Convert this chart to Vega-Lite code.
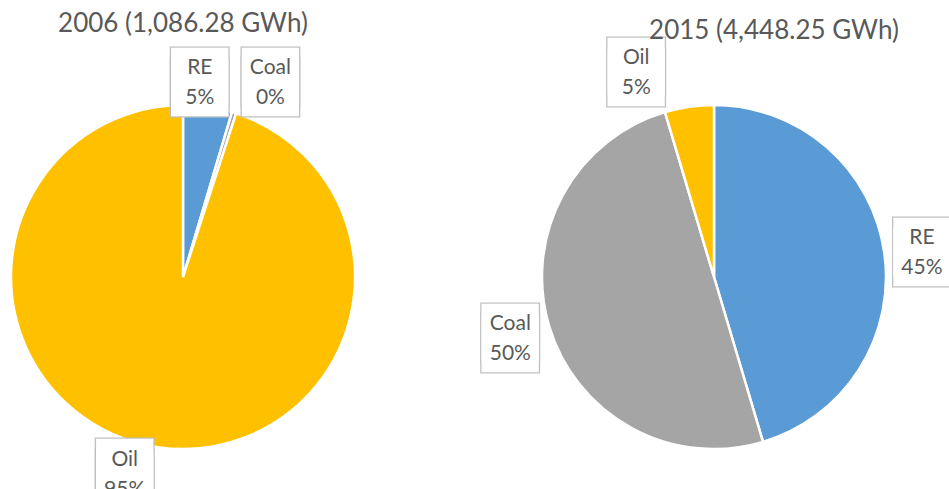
{
  "$schema": "https://vega.github.io/schema/vega-lite/v6.json",
  "padding": {"top": 10, "left": 0, "right": 0, "bottom": 0},
  "background": "white",
  "spacing": 107,
  "config": {
    "view": {"stroke": null},
    "title": {"font": "Lato", "fontSize": 26, "fontWeight": "normal", "color": "#595959", "frame": "group"}
  },
  "datasets": {
    "y2006": [
      {"source": "RE", "share": 0.046, "idx": 1},
      {"source": "Coal", "share": 0.004, "idx": 2},
      {"source": "Oil", "share": 0.95, "idx": 3}
    ],
    "y2015": [
      {"source": "RE", "share": 0.454, "idx": 1},
      {"source": "Coal", "share": 0.5, "idx": 2},
      {"source": "Oil", "share": 0.046, "idx": 3}
    ]
  },
  "hconcat": [
    {
      "width": 366,
      "height": 316,
      "title": {"text": "2006 (1,086.28 GWh)", "offset": -8},
      "data": {"name": "y2006"},
      "transform": [{"calculate": "datum.source + '\\n' + format(datum.share, '.0%')", "as": "label"}],
      "encoding": {
        "theta": {"field": "share", "type": "quantitative", "stack": true},
        "order": {"field": "idx", "type": "quantitative"}
      },
      "layer": [
        {
          "mark": {"type": "arc", "outerRadius": 172, "stroke": "white", "strokeWidth": 2.5},
          "encoding": {
            "color": {"field": "source", "type": "nominal", "legend": null,
              "scale": {"domain": ["RE", "Coal", "Oil"], "range": ["#5B9BD5", "#A5A5A5", "#FFC000"]}}
          }
        },
        {
          "mark": {"type": "text", "radius": 200, "dx": -12, "dy": -6.5, "font": "DejaVu Sans", "fontSize": 75, "lineBreak": "\n", "lineHeight": 11, "fill": "white", "stroke": "#BFBFBF", "strokeWidth": 2.6, "align": "center", "baseline": "middle"},
          "encoding": {"text": {"condition": {"test": "datum.source === 'RE'", "value": "■\n■"}, "value": ""}}
        },
        {
          "mark": {"type": "text", "radius": 200, "dx": 28, "dy": -13.5, "font": "DejaVu Sans", "fontSize": 75, "lineBreak": "\n", "lineHeight": 11, "fill": "white", "stroke": "#BFBFBF", "strokeWidth": 2.6, "align": "center", "baseline": "middle"},
          "encoding": {"text": {"condition": {"test": "datum.source === 'Coal'", "value": "■\n■"}, "value": ""}}
        },
        {
          "mark": {"type": "text", "radius": 200, "dx": -27, "dy": -10.5, "font": "DejaVu Sans", "fontSize": 75, "lineBreak": "\n", "lineHeight": 11, "fill": "white", "stroke": "#BFBFBF", "strokeWidth": 2.6, "align": "center", "baseline": "middle"},
          "encoding": {"text": {"condition": {"test": "datum.source === 'Oil'", "value": "■\n■"}, "value": ""}}
        },
        {
          "mark": {"type": "text", "radius": 200, "dx": -12, "dy": -6.5, "font": "DejaVu Sans", "fontSize": 75, "lineBreak": "\n", "lineHeight": 11, "fill": "white", "align": "center", "baseline": "middle"},
          "encoding": {"text": {"condition": {"test": "datum.source === 'RE'", "value": "■\n■"}, "value": ""}}
        },
        {
          "mark": {"type": "text", "radius": 200, "dx": 28, "dy": -13.5, "font": "DejaVu Sans", "fontSize": 75, "lineBreak": "\n", "lineHeight": 11, "fill": "white", "align": "center", "baseline": "middle"},
          "encoding": {"text": {"condition": {"test": "datum.source === 'Coal'", "value": "■\n■"}, "value": ""}}
        },
        {
          "mark": {"type": "text", "radius": 200, "dx": -27, "dy": -10.5, "font": "DejaVu Sans", "fontSize": 75, "lineBreak": "\n", "lineHeight": 11, "fill": "white", "align": "center", "baseline": "middle"},
          "encoding": {"text": {"condition": {"test": "datum.source === 'Oil'", "value": "■\n■"}, "value": ""}}
        },
        {
          "mark": {"type": "text", "radius": 200, "dx": -12, "dy": -11, "font": "Lato", "fontSize": 21, "color": "#595959", "lineBreak": "\n", "lineHeight": 30, "align": "center", "baseline": "middle"},
          "encoding": {"text": {"condition": {"test": "datum.source === 'RE'", "field": "label"}, "value": ""}}
        },
        {
          "mark": {"type": "text", "radius": 200, "dx": 28, "dy": -18, "font": "Lato", "fontSize": 21, "color": "#595959", "lineBreak": "\n", "lineHeight": 30, "align": "center", "baseline": "middle"},
          "encoding": {"text": {"condition": {"test": "datum.source === 'Coal'", "field": "label"}, "value": ""}}
        },
        {
          "mark": {"type": "text", "radius": 200, "dx": -27, "dy": -15, "font": "Lato", "fontSize": 21, "color": "#595959", "lineBreak": "\n", "lineHeight": 30, "align": "center", "baseline": "middle"},
          "encoding": {"text": {"condition": {"test": "datum.source === 'Oil'", "field": "label"}, "value": ""}}
        }
      ]
    },
    {
      "width": 366,
      "height": 316,
      "title": {"text": "2015 (4,448.25 GWh)", "offset": -18, "dx": 60},
      "data": {"name": "y2015"},
      "transform": [{"calculate": "datum.source + '\\n' + format(datum.share, '.0%')", "as": "label"}],
      "encoding": {
        "theta": {"field": "share", "type": "quantitative", "stack": true},
        "order": {"field": "idx", "type": "quantitative"}
      },
      "layer": [
        {
          "mark": {"type": "arc", "outerRadius": 172, "stroke": "white", "strokeWidth": 2.5},
          "encoding": {
            "color": {"field": "source", "type": "nominal", "legend": null,
              "scale": {"domain": ["RE", "Coal", "Oil"], "range": ["#5B9BD5", "#A5A5A5", "#FFC000"]}}
          }
        },
        {
          "mark": {"type": "text", "radius": 200, "dx": 10, "dy": -5.5, "font": "DejaVu Sans", "fontSize": 75, "lineBreak": "\n", "lineHeight": 11, "fill": "white", "stroke": "#BFBFBF", "strokeWidth": 2.6, "align": "center", "baseline": "middle"},
          "encoding": {"text": {"condition": {"test": "datum.source === 'RE'", "value": "■\n■"}, "value": ""}}
        },
        {
          "mark": {"type": "text", "radius": 200, "dx": -12, "dy": -5.5, "font": "DejaVu Sans", "fontSize": 75, "lineBreak": "\n", "lineHeight": 11, "fill": "white", "stroke": "#BFBFBF", "strokeWidth": 2.6, "align": "center", "baseline": "middle"},
          "encoding": {"text": {"condition": {"test": "datum.source === 'Coal'", "value": "■\n■"}, "value": ""}}
        },
        {
          "mark": {"type": "text", "radius": 200, "dx": -49, "dy": -16.5, "font": "DejaVu Sans", "fontSize": 75, "lineBreak": "\n", "lineHeight": 11, "fill": "white", "stroke": "#BFBFBF", "strokeWidth": 2.6, "align": "center", "baseline": "middle"},
          "encoding": {"text": {"condition": {"test": "datum.source === 'Oil'", "value": "■\n■"}, "value": ""}}
        },
        {
          "mark": {"type": "text", "radius": 200, "dx": 10, "dy": -5.5, "font": "DejaVu Sans", "fontSize": 75, "lineBreak": "\n", "lineHeight": 11, "fill": "white", "align": "center", "baseline": "middle"},
          "encoding": {"text": {"condition": {"test": "datum.source === 'RE'", "value": "■\n■"}, "value": ""}}
        },
        {
          "mark": {"type": "text", "radius": 200, "dx": -12, "dy": -5.5, "font": "DejaVu Sans", "fontSize": 75, "lineBreak": "\n", "lineHeight": 11, "fill": "white", "align": "center", "baseline": "middle"},
          "encoding": {"text": {"condition": {"test": "datum.source === 'Coal'", "value": "■\n■"}, "value": ""}}
        },
        {
          "mark": {"type": "text", "radius": 200, "dx": -49, "dy": -16.5, "font": "DejaVu Sans", "fontSize": 75, "lineBreak": "\n", "lineHeight": 11, "fill": "white", "align": "center", "baseline": "middle"},
          "encoding": {"text": {"condition": {"test": "datum.source === 'Oil'", "value": "■\n■"}, "value": ""}}
        },
        {
          "mark": {"type": "text", "radius": 200, "dx": 10, "dy": -10, "font": "Lato", "fontSize": 21, "color": "#595959", "lineBreak": "\n", "lineHeight": 30, "align": "center", "baseline": "middle"},
          "encoding": {"text": {"condition": {"test": "datum.source === 'RE'", "field": "label"}, "value": ""}}
        },
        {
          "mark": {"type": "text", "radius": 200, "dx": -12, "dy": -10, "font": "Lato", "fontSize": 21, "color": "#595959", "lineBreak": "\n", "lineHeight": 30, "align": "center", "baseline": "middle"},
          "encoding": {"text": {"condition": {"test": "datum.source === 'Coal'", "field": "label"}, "value": ""}}
        },
        {
          "mark": {"type": "text", "radius": 200, "dx": -49, "dy": -21, "font": "Lato", "fontSize": 21, "color": "#595959", "lineBreak": "\n", "lineHeight": 30, "align": "center", "baseline": "middle"},
          "encoding": {"text": {"condition": {"test": "datum.source === 'Oil'", "field": "label"}, "value": ""}}
        }
      ]
    }
  ]
}
